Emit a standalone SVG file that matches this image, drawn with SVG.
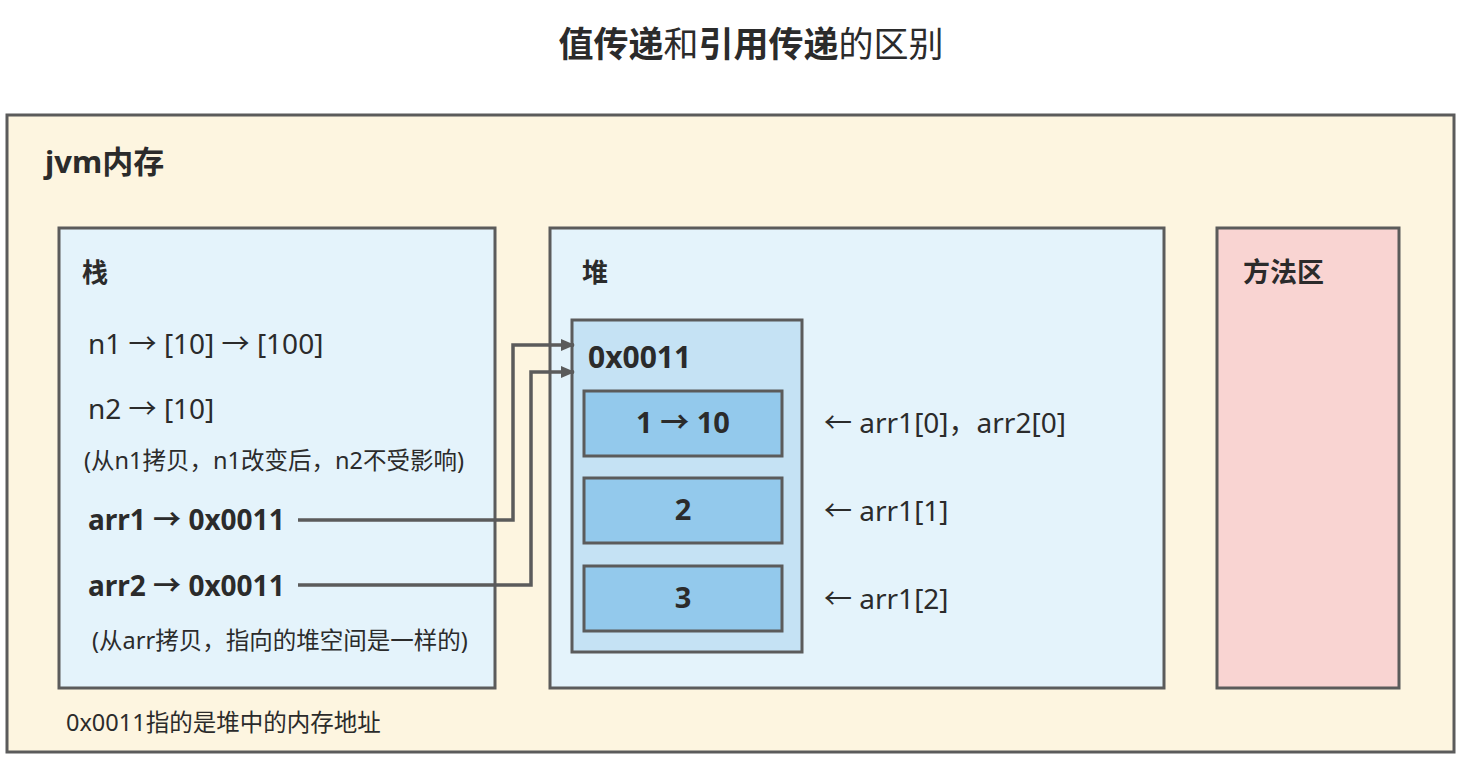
<svg xmlns="http://www.w3.org/2000/svg" width="1462" height="757" viewBox="0 0 1462 757">
<defs>
<style>
text{font-family:"Noto Sans","Noto Sans CJK SC",sans-serif;fill:#2b2b2b}
.b{font-weight:bold}
.box{stroke:#5b5b5b;stroke-width:3}
.conn{fill:none;stroke:#5b5b5b;stroke-width:3.5}
</style>
<marker id="ah" markerWidth="14" markerHeight="14" refX="13" refY="7" orient="auto" markerUnits="userSpaceOnUse" viewBox="0 0 14 14">
<path d="M0,1 L14,7 L0,13 Z" fill="#5b5b5b"/>
</marker>
</defs>
<rect width="1462" height="757" fill="#ffffff"/>
<text x="751" y="57" font-size="35" text-anchor="middle"><tspan class="b">值传递</tspan>和<tspan class="b">引用传递</tspan>的区别</text>
<g id="jvm">
<rect class="box" x="7" y="115" width="1447" height="637" fill="#fdf5e0"/>
<text class="b" x="45" y="173" font-size="31">jvm内存</text>
<text x="66" y="731" font-size="23.5">0x0011指的是堆中的内存地址</text>
</g>
<g id="stack">
<rect class="box" x="59" y="228" width="436" height="460" fill="#e4f3fb"/>
<text class="b" x="82" y="282" font-size="26">栈</text>
<text x="88" y="354" font-size="28">n1 → [10] → [100]</text>
<text x="88" y="419" font-size="28">n2 → [10]</text>
<text x="84" y="469" font-size="23.5">(从n1拷贝，n1改变后，n2不受影响)</text>
<text class="b" x="88" y="530" font-size="28">arr1 → 0x0011</text>
<text class="b" x="88" y="596" font-size="28">arr2 → 0x0011</text>
<text x="92" y="649" font-size="23.5">(从arr拷贝，指向的堆空间是一样的)</text>
</g>
<g id="heap">
<rect class="box" x="550" y="228" width="614" height="460" fill="#e4f3fb"/>
<text class="b" x="582" y="282" font-size="26">堆</text>
<text x="824" y="433" font-size="28">← arr1[0]，arr2[0]</text>
<text x="824" y="521" font-size="28">← arr1[1]</text>
<text x="824" y="609" font-size="28">← arr1[2]</text>
</g>
<g id="array">
<rect class="box" x="572" y="320" width="230" height="332" fill="#c5e2f4"/>
<text class="b" x="588" y="368" font-size="30">0x0011</text>
</g>
<g id="cell0">
<rect class="box" x="584" y="391" width="198" height="65" fill="#93c9ec"/>
<text class="b" x="683" y="433" font-size="29" text-anchor="middle">1 → 10</text>
</g>
<g id="cell1">
<rect class="box" x="584" y="478" width="198" height="65" fill="#93c9ec"/>
<text class="b" x="683" y="520" font-size="29" text-anchor="middle">2</text>
</g>
<g id="cell2">
<rect class="box" x="584" y="566" width="198" height="65" fill="#93c9ec"/>
<text class="b" x="683" y="608" font-size="29" text-anchor="middle">3</text>
</g>
<g id="method">
<rect class="box" x="1217" y="228" width="182" height="460" fill="#f9d4d2"/>
<text class="b" x="1243" y="282" font-size="27">方法区</text>
</g>
<g id="connectors">
<path class="conn" d="M298,520 H513 V345 H574" marker-end="url(#ah)"/>
<path class="conn" d="M298,585 H531 V372 H574" marker-end="url(#ah)"/>
</g>
</svg>
